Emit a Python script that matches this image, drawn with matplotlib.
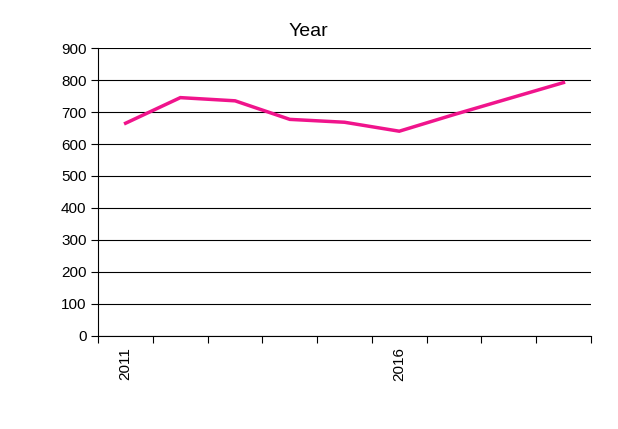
import matplotlib
matplotlib.use("Agg")
import matplotlib.pyplot as plt

years = [2011, 2012, 2013, 2014, 2015, 2016, 2017, 2018, 2019]
values = [665, 745, 735, 677, 668, 640, 692, 742, 792]
shown_labels = {2011: "2011", 2016: "2016"}

plt.rcParams['font.family'] = ['Liberation Sans', 'DejaVu Sans']
fig = plt.figure(figsize=(6.18, 4.29), dpi=100)
ax = fig.add_axes([0.159, 0.217, 0.797, 0.671])
x = list(range(len(years)))
ax.plot(x, values, color='#F0148C', lw=2.5, solid_joinstyle='miter')
ax.set_xlim(-0.5, len(years) - 0.5)
ax.set_ylim(0, 900)
ax.set_yticks(range(0, 901, 100))
ax.yaxis.grid(True, color='black', lw=0.8)
ax.set_axisbelow(True)
ax.set_xticks([i - 0.5 for i in range(len(years) + 1)])
ax.set_xticklabels([])
ax.set_xticks(x, minor=True)
ax.set_xticklabels([shown_labels.get(y, "") for y in years], minor=True, rotation=90, fontsize=11)
ax.tick_params(axis='x', which='minor', length=0, pad=8)
ax.tick_params(axis='x', which='major', length=5, direction='out')
ax.tick_params(axis='y', length=5, labelsize=11)
for s in ['top', 'right']:
    ax.spines[s].set_visible(False)
fig.text(308 / 618, 1 - 31 / 429, "Year", fontsize=14, ha='center', va='center')
fig.savefig("out.png", dpi=100)
